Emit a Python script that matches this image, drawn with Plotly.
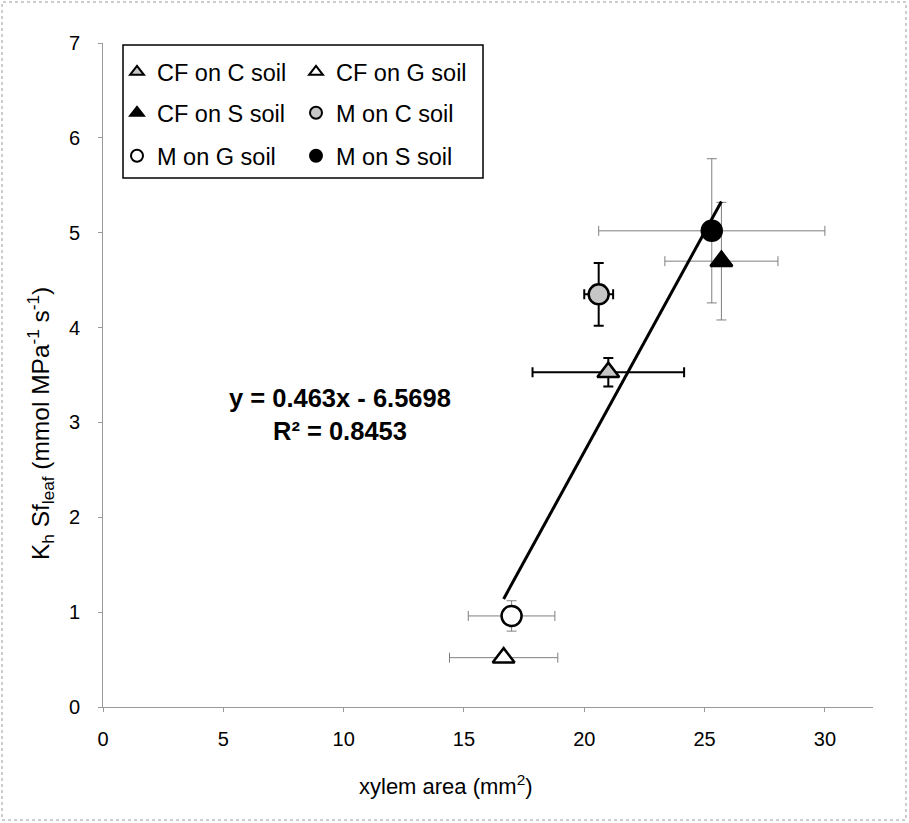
import plotly.graph_objects as go

# ---- data ----
series_names = ["CF on C soil", "CF on G soil", "CF on S soil",
                "M on C soil", "M on G soil", "M on S soil"]
xylem_area = [21.0, 16.65, 25.7, 20.6, 16.98, 25.3]
xylem_err = [3.15, 2.25, 2.35, 0.6, 1.8, 4.7]
kh_sf = [3.53, 0.52, 4.70, 4.35, 0.96, 5.02]
kh_err = [0.15, 0.0, 0.62, 0.33, 0.16, 0.76]
symbols = ["triangle-up", "triangle-up", "triangle-up", "circle", "circle", "circle"]
fills = ["#c6c6c6", "#ffffff", "#000000", "#c6c6c6", "#ffffff", "#000000"]
err_colors = ["#000000", "#7f7f7f", "#7f7f7f", "#000000", "#7f7f7f", "#7f7f7f"]
err_thick = [2, 1, 1, 2, 1, 1]
slope, intercept = 0.463, -6.5698
r_squared = 0.8453

# layout helpers (pixel geometry of the plot area)
W, H = 909, 823
L, R, T, B = 103, 36, 43, 116
PW, PH = W - L - R, H - T - B


def px_x(p):
    return (p - L) / PW


def px_y(p):
    return (H - B - p) / PH


# legend slot positions (pixel: marker centre x, row centre y)
legend_slots = [(137, 72), (316, 72), (137, 113), (316, 113), (137, 156), (316, 156)]

FONT = "Arial, Liberation Sans, sans-serif"
fig = go.Figure()

# error bars first (drawn beneath the markers)
for i, name in enumerate(series_names):
    fig.add_trace(go.Scatter(
        x=[xylem_area[i]], y=[kh_sf[i]], name=name, mode="markers",
        marker=dict(size=1, opacity=0), showlegend=False, hoverinfo="skip",
        error_x=dict(type="data", array=[xylem_err[i]], color=err_colors[i],
                     thickness=err_thick[i], width=5),
        error_y=dict(type="data", array=[kh_err[i]], color=err_colors[i],
                     thickness=err_thick[i], width=5, visible=kh_err[i] > 0),
    ))

# markers
for i, name in enumerate(series_names):
    sym_size = 19 if symbols[i] == "triangle-up" else 20
    fig.add_trace(go.Scatter(
        x=[xylem_area[i]], y=[kh_sf[i]], name=name, mode="markers",
        marker=dict(symbol=symbols[i], size=sym_size, color=fills[i],
                    line=dict(color="#000000", width=2.5)),
        legend="legend" if i == 0 else f"legend{i + 1}",
    ))

# linear trendline over the data range
x_min, x_max = min(xylem_area), max(xylem_area)
fig.add_trace(go.Scatter(
    x=[x_min, x_max], y=[slope * x_min + intercept, slope * x_max + intercept],
    mode="lines", line=dict(color="#000000", width=3), showlegend=False,
    hoverinfo="skip"))

layout_legends = {}
for i, (lx, ly) in enumerate(legend_slots):
    key = "legend" if i == 0 else f"legend{i + 1}"
    layout_legends[key] = dict(
        x=px_x(lx - 20), y=px_y(ly), xanchor="left", yanchor="middle",
        bgcolor="rgba(0,0,0,0)", borderwidth=0, itemsizing="constant",
        font=dict(family=FONT, size=23.5, color="#000000"))

fig.update_layout(
    width=W, height=H, margin=dict(l=L, r=R, t=T, b=B, autoexpand=False),
    paper_bgcolor="#ffffff", plot_bgcolor="#ffffff",
    font=dict(family=FONT, color="#000000"),
    xaxis=dict(range=[0, 32], tickvals=[0, 5, 10, 15, 20, 25, 30],
               showgrid=False, zeroline=False, showline=True,
               linecolor="#9a9a9a", linewidth=1, ticks="outside", ticklen=4,
               tickcolor="#9a9a9a", tickfont=dict(size=20, family=FONT),
               ticklabelstandoff=10),
    yaxis=dict(range=[0, 7], tickvals=[0, 1, 2, 3, 4, 5, 6, 7],
               showgrid=False, zeroline=False, showline=True,
               linecolor="#9a9a9a", linewidth=1, ticks="outside", ticklen=4,
               tickcolor="#9a9a9a", tickfont=dict(size=20, family=FONT),
               ticklabelstandoff=14),
    **layout_legends,
    annotations=[
        dict(x=9.85, y=3.08, xref="x", yref="y", showarrow=False,
             text=f"<b>y = {slope}x - {abs(intercept)}</b><br><b>R² = {r_squared}</b>",
             font=dict(family=FONT, size=25.5, color="#000000"), align="center"),
        dict(x=px_x(446), y=px_y(785), xref="paper", yref="paper",
             showarrow=False, text="xylem area (mm<sup>2</sup>)",
             font=dict(family=FONT, size=22, color="#000000"),
             xanchor="center", yanchor="middle"),
        dict(x=px_x(40), y=px_y(424), xref="paper", yref="paper",
             showarrow=False, textangle=-90,
             text="K<sub>h</sub> Sf<sub>leaf</sub> (mmol MPa<sup>-1</sup> s<sup>-1</sup>)",
             font=dict(family=FONT, size=24.5, color="#000000"),
             xanchor="center", yanchor="middle"),
    ],
    shapes=[
        dict(type="rect", xref="paper", yref="paper",
             x0=px_x(123), x1=px_x(483), y0=px_y(178), y1=px_y(45),
             line=dict(color="#000000", width=1.5), fillcolor="rgba(0,0,0,0)"),
        dict(type="rect", xref="paper", yref="paper",
             x0=px_x(2), x1=px_x(906), y0=px_y(820), y1=px_y(2),
             line=dict(color="#9a9a9a", width=1, dash="dot"),
             fillcolor="rgba(0,0,0,0)"),
    ],
)

fig.write_html("out.html")
